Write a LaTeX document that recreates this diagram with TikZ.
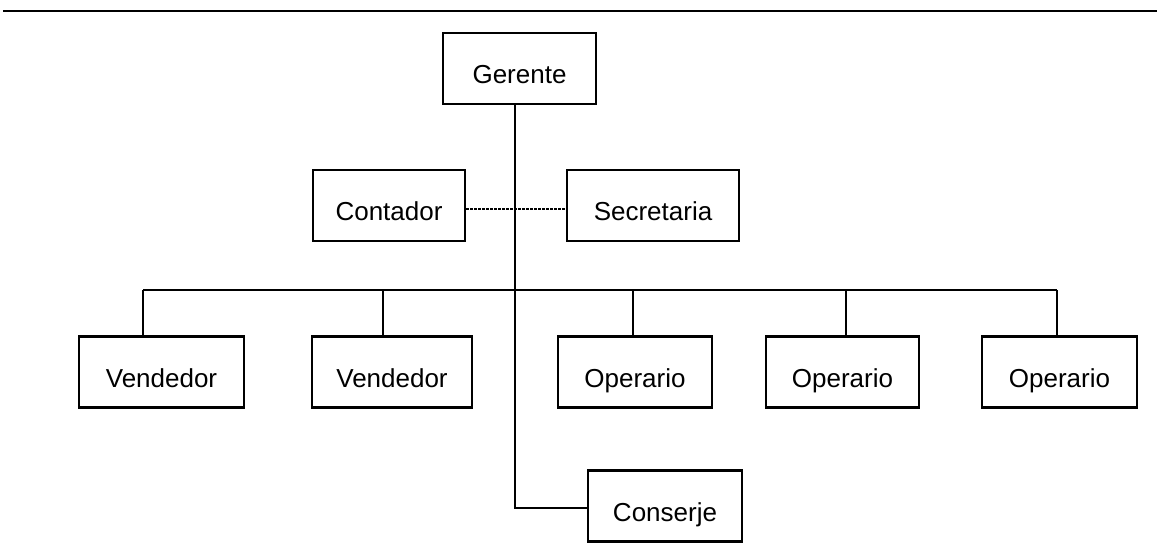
\documentclass[tikz,border=0pt]{standalone}
\usepackage{fontspec}
\setmainfont{Liberation Sans}

\tikzset{
  puesto/.style={draw, line width=2.7pt, minimum height=71pt, inner sep=0pt,
    text height=31pt, text depth=0pt, font=\fontsize{26}{30}\selectfont},
  enlace/.style={line width=2.4pt},
}

\begin{document}
\begin{tikzpicture}[x=1pt, y=-1pt]
    \useasboundingbox (0,0) rectangle (1157,556);
    \coordinate (r0) at (3,11);
    \coordinate (r1) at (1157,11);
    \draw[line width=2.8pt] (r0) -- (r1);

    % niveles
    \node[puesto, minimum width=153pt] (ger) at (519.5,68.5) {Gerente};
    \node[puesto, minimum width=152pt] (cont) at (389,205.5) {Contador};
    \node[puesto, minimum width=172pt] (secr) at (653,205.5) {Secretaria};

    \node[puesto, minimum width=165pt] (v1) at (161.5,372) {Vendedor};
    \node[puesto, minimum width=160pt] (v2) at (392,372) {Vendedor};
    \node[puesto, minimum width=154pt] (o1) at (635,372) {Operario};
    \node[puesto, minimum width=153pt] (o2) at (842.5,372) {Operario};
    \node[puesto, minimum width=155pt] (o3) at (1059.5,372) {Operario};

    \node[puesto, minimum width=154pt] (cons) at (665,506) {Conserje};

    % lineas
    \coordinate (tr) at (515,508);
    \draw[enlace] (tr |- ger.south) -- (tr) -- (tr -| cons.west);
    \draw[enlace, dash pattern=on 2.5pt off 1.5pt] (cont.east |- 0,209) -- (secr.west |- 0,209);

    \foreach \n/\x in {v1/143, v2/383, o1/633, o2/846, o3/1057} {
        \coordinate (s\n) at (\x,290);
        \draw[enlace] (s\n) -- (s\n |- \n.north);
    }
    \draw[enlace] (sv1) -- (so3);

\end{tikzpicture}
\end{document}
